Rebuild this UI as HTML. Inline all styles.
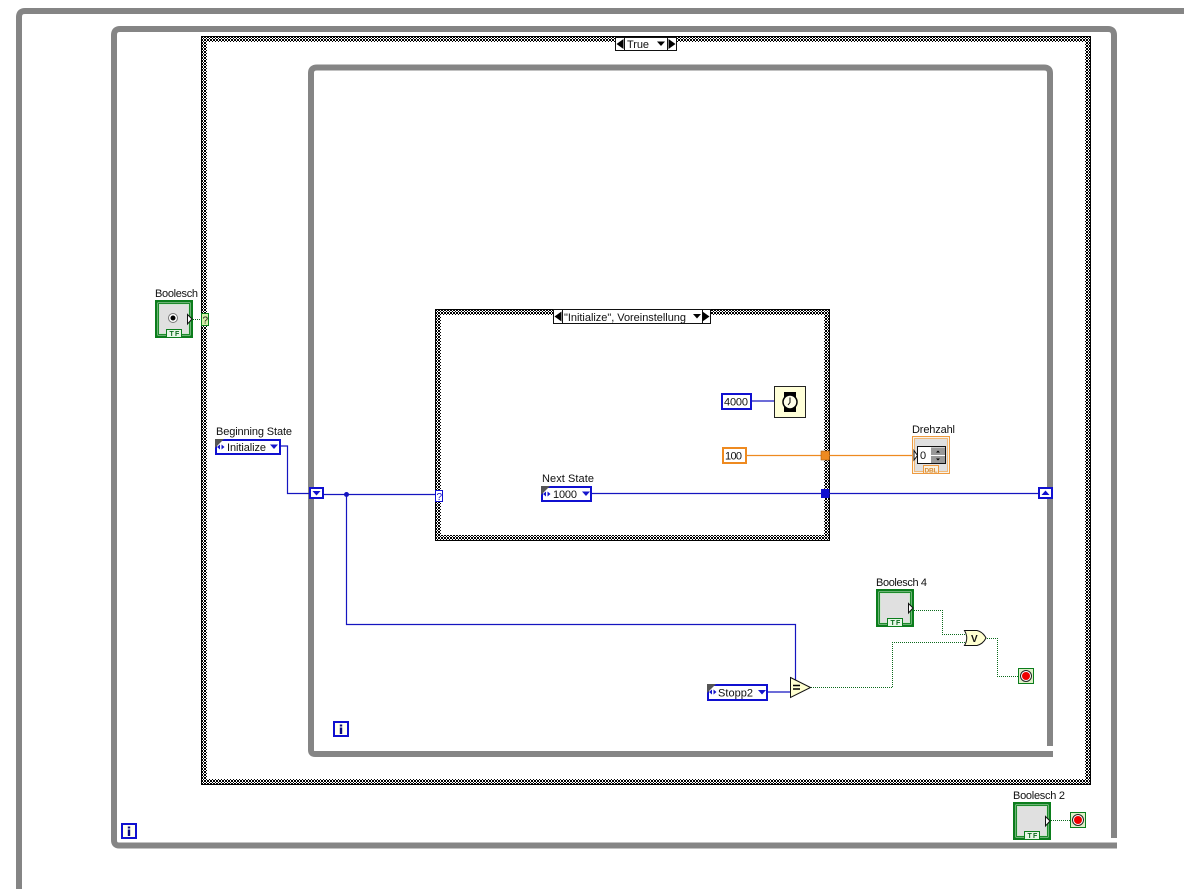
<!DOCTYPE html>
<html><head><meta charset="utf-8"><style>
html,body{margin:0;padding:0;background:#fff;width:1184px;height:889px;overflow:hidden}
svg{display:block}
text{font-family:"Liberation Sans",sans-serif;font-size:11px;fill:#111}
text.tf{font-size:7px;font-weight:bold;fill:#0b6a1c}
</style></head><body>
<svg width="1184" height="889" viewBox="0 0 1184 889" xmlns="http://www.w3.org/2000/svg">
<defs>
<pattern id="ck" width="3" height="3" patternUnits="userSpaceOnUse" shape-rendering="crispEdges">
<rect width="3" height="3" fill="#fff"/><rect width="2" height="2" fill="#000"/><rect x="2" y="2" width="1" height="1" fill="#000"/>
</pattern>
<g id="ctrl">
<rect width="38" height="38" fill="#0b7d1c"/>
<rect x="2.500" y="2.500" width="33" height="33" fill="#cfe6cf"/>
<rect x="3.500" y="3.500" width="31" height="31" fill="none" stroke="#1d8a2c" stroke-width="1"/>
<rect x="5" y="5" width="28" height="28" fill="#e0e0e0"/>
<rect x="11.500" y="29.500" width="15" height="8" fill="#e6f6e6" stroke="#0b7d1c"/>
<path d="M32.500 14.500L37 19L32.500 24Z" fill="#fff" stroke="#111" stroke-width="1"/>
</g>
<g id="stop">
<rect x=".5" y=".5" width="15" height="15" fill="#dff0c8" stroke="#0b7d1c"/>
<circle cx="8" cy="8" r="5.500" fill="#fff" stroke="#222"/>
<circle cx="8" cy="8" r="4" fill="#f00000"/>
</g>
<g id="enum">
<path d="M0 0h9L0 9Z" fill="#555"/>
<path d="M2 8l3-2.500v5ZM9.500 8l-3-2.500v5Z" fill="#1515cc"/>
</g>
<path id="drop" d="M0 0h8l-4 4.500Z" fill="#1515cc"/>
<g id="iT">
<rect x="1" y="1" width="14" height="14" fill="#fffff0" stroke="#1010d0" stroke-width="2"/>
<rect x="6.800" y="3.500" width="2.400" height="2" fill="#0a0a80"/>
<rect x="6.800" y="6.500" width="2.400" height="6.500" fill="#0a0a80"/>
</g>
</defs>

<!-- loops -->
<g fill="none" stroke="#858585" stroke-width="6">
<path d="M19 889V17Q19 11 25 11H1184"/>
<path d="M1114 838V35Q1114 29 1108 29H120Q114 29 114 35V840Q114 845.500 119 845.500H1117"/>
</g>

<!-- outer case -->
<path fill-rule="evenodd" fill="url(#ck)" d="M201 36H1091V785H201ZM207 42V779H1085V42Z"/>
<rect x="201.500" y="36.500" width="889" height="748" fill="none" stroke="#000"/>

<!-- inner loop -->
<path fill="none" stroke="#858585" stroke-width="6" d="M1050 746V73Q1050 67.500 1044 67.500H317Q311 67.500 311 73V750Q311 754 315 754H1053"/>

<!-- inner case -->
<path fill-rule="evenodd" fill="url(#ck)" d="M435 309H830V541H435ZM441 315V535H824V315Z"/>
<rect x="435.500" y="309.500" width="394" height="231" fill="none" stroke="#000"/>

<!-- blue wires -->
<g fill="none" stroke="#1515c0" stroke-width="1.200">
<path d="M281 446H287.500V493.500H309"/>
<path d="M324 494.500H436"/>
<path d="M346.500 494V624.500H795.500V681"/>
<path d="M592 493.500H1039"/>
<path d="M752 401H775"/>
<path d="M768 692H791"/>
</g>
<circle cx="346.500" cy="494.500" r="2.500" fill="#1515c0"/>

<!-- orange wire -->
<path d="M747 455.500H914" stroke="#ee8a20" stroke-width="1.200" fill="none"/>

<!-- green dotted wires -->
<g fill="none" stroke="#0b6a1c" stroke-width="1" stroke-dasharray="1 1">
<path d="M193 319.500H201"/>
<path d="M914 610.500H942.500V634.500H967"/>
<path d="M811 687.500H892.500V642.500H968"/>
<path d="M985 638.500H997.500V676.500H1018"/>
<path d="M1051 820.500H1070"/>
</g>

<!-- outer-case top selector -->
<rect x="615.500" y="37.500" width="61" height="13" fill="#fff" stroke="#111"/>
<path d="M624.500 37.500V50.500M667.500 37.500V50.500" stroke="#111"/>
<path d="M616.500 44l7-5v10ZM675.500 44l-7-5v10Z" fill="#000"/>
<text x="627" y="48" textLength="22">True</text>
<path d="M657 41.500h8l-4 4.500Z" fill="#000"/>

<!-- inner-case selector -->
<rect x="553.500" y="309.500" width="157" height="14" fill="#fff" stroke="#111"/>
<path d="M562.500 309.500V323.500M702.500 309.500V323.500" stroke="#111"/>
<path d="M554.500 316.500l7-5v10ZM709.500 316.500l-7-5v10Z" fill="#000"/>
<text x="564" y="321" textLength="122">"Initialize", Voreinstellung</text>
<path d="M693 314h8l-4 4.500Z" fill="#000"/>

<!-- Boolesch -->
<text x="155" y="297" textLength="43">Boolesch</text>
<use href="#ctrl" x="155" y="300"/>
<circle cx="173" cy="318" r="4.500" fill="#fff" stroke="#777"/>
<circle cx="173" cy="318" r="2.500" fill="#000"/>
<text class="tf" x="169.500" y="336">T</text><text class="tf" x="175" y="336">F</text>
<rect x="201.500" y="313.500" width="7" height="12" fill="#d4f0a8" stroke="#0b7d1c"/>
<text x="202.500" y="323.500" style="font-size:10px" textLength="5">?</text>

<!-- Beginning State -->
<text x="216" y="435" textLength="76">Beginning State</text>
<rect x="216" y="440" width="64" height="14" fill="#fff" stroke="#1010d0" stroke-width="2"/>
<use href="#enum" x="215" y="439"/>
<text x="227" y="451" textLength="39">Initialize</text>
<use href="#drop" x="270" y="444.500"/>

<!-- Shift registers -->
<rect x="310" y="488" width="13" height="10" fill="#fff" stroke="#1010d0" stroke-width="2"/>
<path d="M312.500 491h8l-4 4.500Z" fill="#1010d0"/>
<rect x="1039" y="488" width="13" height="10" fill="#fff" stroke="#1010d0" stroke-width="2"/>
<path d="M1041.500 495h8l-4-4.500Z" fill="#1010d0"/>

<!-- case selector terminal -->
<rect x="435.500" y="490.500" width="7" height="11" fill="#fff" stroke="#1010d0"/>
<text x="436.500" y="500" style="font-size:10px;fill:#1010d0" textLength="5">?</text>

<!-- Next State -->
<text x="542" y="482" textLength="52">Next State</text>
<rect x="542" y="487" width="49" height="14" fill="#fff" stroke="#1010d0" stroke-width="2"/>
<use href="#enum" x="541" y="486"/>
<text x="553" y="498" textLength="24">1000</text>
<use href="#drop" x="582" y="491.500"/>

<!-- 4000 + wait -->
<rect x="722" y="394" width="29" height="15" fill="#fff" stroke="#1010d0" stroke-width="2"/>
<text x="724" y="405.500" textLength="24">4000</text>
<rect x="774.500" y="386.500" width="31" height="31" fill="#ffffd8" stroke="#222"/>
<rect x="784" y="392" width="12" height="20" fill="#000"/>
<circle cx="790" cy="402" r="7" fill="#ffffe8" stroke="#000" stroke-width="1.500"/>
<path d="M790 397.500V402.500L788 405" stroke="#000" fill="none"/>

<!-- 100 -->
<rect x="723" y="448" width="23" height="15" fill="#fff" stroke="#ee8a20" stroke-width="2"/>
<text x="725" y="459.500" textLength="17">100</text>

<!-- tunnels -->
<rect x="821" y="451" width="8.500" height="9" fill="#ee8a20" stroke="#a85a10" stroke-width=".6"/>
<rect x="821" y="489" width="8.500" height="9" fill="#1010d0"/>

<!-- Drehzahl -->
<text x="912" y="433" textLength="43">Drehzahl</text>
<rect x="912.500" y="436.500" width="37" height="37" fill="#f8f4ea" stroke="#ee9a40"/>
<rect x="914.500" y="438.500" width="33" height="33" fill="#e0e0e0" stroke="#f0b878"/>
<rect x="917.500" y="446.500" width="28" height="17" fill="#fff" stroke="#111"/>
<rect x="931" y="447.500" width="14" height="7.500" fill="#999"/>
<rect x="931" y="456" width="14" height="7" fill="#999"/>
<path d="M936 452.500l2-2 2 2ZM936 458.500l2 2 2-2Z" fill="#000"/>
<text x="920" y="459" textLength="7">0</text>
<path d="M914 450.500L917.500 455.500L914 460Z" fill="#fff" stroke="#111"/>
<rect x="923.500" y="465.500" width="15" height="8" fill="#f8f0e0" stroke="#ee9a40"/>
<text x="924.500" y="472.500" style="font-size:6.500px;font-weight:bold;fill:#d88a30" textLength="13">DBL</text>

<!-- Boolesch 4 -->
<text x="876" y="586" textLength="51">Boolesch 4</text>
<use href="#ctrl" x="876" y="589"/>
<text class="tf" x="890.500" y="625">T</text><text class="tf" x="896" y="625">F</text>

<!-- OR -->
<path d="M964.500 630.500H977Q983 632 986 638Q983 644 977 645.500H964.500Q969 638 964.500 630.500Z" fill="#ffffd0" stroke="#111"/>
<text x="971" y="642" style="font-size:10px;font-weight:bold" textLength="7">V</text>
<use href="#stop" x="1018" y="668"/>

<!-- Equal -->
<path d="M790.500 677.500L810.500 687.500L790.500 697.500Z" fill="#ffffd0" stroke="#111"/>
<path d="M793 685.500H800M793 689H800" stroke="#000" stroke-width="1.500"/>

<!-- Stopp2 -->
<rect x="708" y="685" width="59" height="15" fill="#fff" stroke="#1010d0" stroke-width="2"/>
<use href="#enum" x="707" y="684"/>
<text x="718" y="696.500" textLength="35">Stopp2</text>
<use href="#drop" x="758" y="690"/>

<!-- i terminals -->
<use href="#iT" x="333" y="721"/>
<use href="#iT" x="121" y="823"/>

<!-- Boolesch 2 -->
<text x="1013" y="799" textLength="52">Boolesch 2</text>
<use href="#ctrl" x="1013" y="802"/>
<text class="tf" x="1027.500" y="838">T</text><text class="tf" x="1033" y="838">F</text>
<use href="#stop" x="1070" y="812"/>
</svg>
</body></html>
